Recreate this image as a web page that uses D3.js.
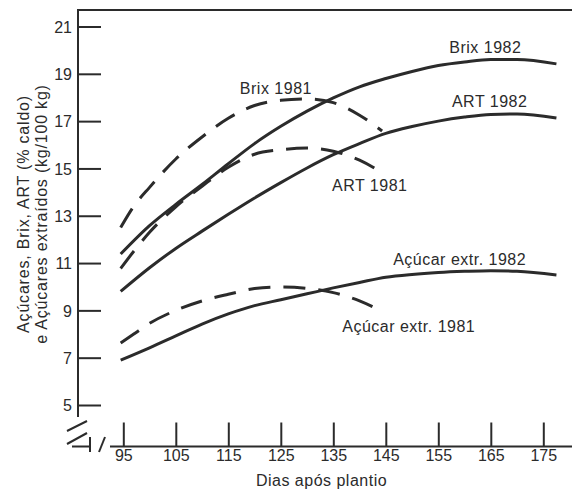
<!DOCTYPE html>
<html>
<head>
<meta charset="utf-8">
<script src="https://cdn.jsdelivr.net/npm/d3@7"></script>
<style>
  html, body { margin: 0; padding: 0; background: #fff; }
  svg text { font-family: 'Liberation Sans', Arial, Helvetica, sans-serif; fill: #2b2b2b; }
</style>
</head>
<body>
<div id="chart"></div>
<script>
'use strict'

// values (days after planting -> % / kg per 100 kg)
const days1982 = [94.5, 100, 105, 110, 115, 120, 125, 130, 135, 140, 145, 150, 155, 160, 165, 170, 177.5]
const brix1982 = [11.38, 12.58, 13.48, 14.32, 15.2, 16.05, 16.78, 17.42, 17.98, 18.45, 18.8, 19.1, 19.35, 19.5, 19.6, 19.6, 19.42]
const art1982 = [9.8, 10.8, 11.62, 12.35, 13.06, 13.75, 14.4, 15.02, 15.58, 16.05, 16.48, 16.77, 17.0, 17.17, 17.28, 17.3, 17.13]
const acucar1982 = [6.9, 7.42, 7.92, 8.42, 8.85, 9.2, 9.45, 9.7, 9.95, 10.18, 10.4, 10.52, 10.6, 10.65, 10.68, 10.65, 10.5]

const days1981 = [94.5, 97, 100, 105, 110, 115, 120, 125, 130, 135, 140, 144.3]
const brix1981 = [12.5, 13.4, 14.2, 15.4, 16.33, 17.12, 17.66, 17.88, 17.94, 17.78, 17.25, 16.58]
const art1981 = [10.77, 11.5, 12.3, 13.38, 14.25, 15.05, 15.6, 15.79, 15.86, 15.73, 15.35, 14.82]
const acucar1981 = [7.62, 8.0, 8.45, 9.0, 9.4, 9.68, 9.92, 9.99, 9.93, 9.75, 9.4, 8.95]

const xTicks = [95, 105, 115, 125, 135, 145, 155, 165, 175]
const yTicks = [5, 7, 9, 11, 13, 15, 17, 19, 21]

const xTitle = 'Dias após plantio'
const yTitle = ['Açúcares, Brix, ART (% caldo)', 'e Açúcares extraídos (kg/100 kg)']

const series = [
  { name: 'Brix 1982', days: days1982, values: brix1982, dashed: false },
  { name: 'ART 1982', days: days1982, values: art1982, dashed: false },
  { name: 'Açúcar extr. 1982', days: days1982, values: acucar1982, dashed: false },
  { name: 'Brix 1981', days: days1981, values: brix1981, dashed: true },
  { name: 'ART 1981', days: days1981, values: art1981, dashed: true },
  { name: 'Açúcar extr. 1981', days: days1981, values: acucar1981, dashed: true }
]

// where each curve's label sits, in data units (left edge / baseline)
const labelAt = {
  'Brix 1982': [157.1, 19.88],
  'ART 1982': [157.6, 17.6],
  'Brix 1981': [117.2, 18.13],
  'ART 1981': [134.75, 14.05],
  'Açúcar extr. 1982': [146.4, 10.92],
  'Açúcar extr. 1981': [136.7, 8.09]
}

const width = 572
const height = 490
const ink = '#2b2b2b'

const svg = d3.select('#chart').append('svg')
  .attr('width', width)
  .attr('height', height)

const x = d3.scaleLinear().domain([95, 175]).range([123.3, 543.3])
const y = d3.scaleLinear().domain([5, 21]).range([405, 26.5])

const axisX = 78      // y axis line
const baseY = 446.5   // x axis line
const frameTop = 10

// frame top + y axis line
svg.append('path')
  .attr('d', `M${width},${frameTop}H${axisX}V417`)
  .attr('fill', 'none')
  .attr('stroke', ink)
  .attr('stroke-width', 2)

const yAxis = d3.axisLeft(y)
  .tickValues(yTicks)
  .tickSize(-23)
  .tickPadding(6)

const gY = svg.append('g')
  .attr('transform', `translate(${axisX},0)`)
  .call(yAxis)
gY.select('.domain').remove()
gY.selectAll('.tick line').attr('stroke', ink).attr('stroke-width', 2)
gY.selectAll('.tick text')
  .attr('font-size', 16)
  .attr('fill', ink)
  .attr('dy', '0.36em')

const xAxis = d3.axisBottom(x)
  .tickValues(xTicks)
  .tickSize(-24)
  .tickPadding(3)

const gX = svg.append('g')
  .attr('transform', `translate(0,${baseY})`)
  .call(xAxis)
gX.select('.domain').remove()
gX.selectAll('.tick line').attr('stroke', ink).attr('stroke-width', 2)
gX.selectAll('.tick text')
  .attr('font-size', 16)
  .attr('fill', ink)

svg.append('line')
  .attr('x1', 110).attr('x2', width)
  .attr('y1', baseY).attr('y2', baseY)
  .attr('stroke', ink)
  .attr('stroke-width', 2)

// axis break marks
const breaks = [
  [[67, 431], [87, 421]],
  [[67, 444], [87, 433]],
  [[72, 446.5], [90, 446.5]],
  [[90, 437], [90, 452]],
  [[99, 452], [105, 437]]
]
svg.append('g')
  .selectAll('line')
  .data(breaks)
  .join('line')
  .attr('x1', d => d[0][0]).attr('y1', d => d[0][1])
  .attr('x2', d => d[1][0]).attr('y2', d => d[1][1])
  .attr('stroke', ink)
  .attr('stroke-width', 2)

// titles
svg.append('text')
  .attr('x', 321.5)
  .attr('y', 486)
  .attr('text-anchor', 'middle')
  .attr('font-size', 16)
  .attr('letter-spacing', 0.5)
  .text(xTitle)

svg.append('g')
  .attr('transform', 'translate(29,214) rotate(-90)')
  .selectAll('text')
  .data(yTitle)
  .join('text')
  .attr('x', 0)
  .attr('y', (d, i) => i * 17.5)
  .attr('text-anchor', 'middle')
  .attr('font-size', 16)
  .attr('letter-spacing', 0.8)
  .text(d => d)

// curves
const line = d3.line()
  .x(d => x(d[0]))
  .y(d => y(d[1]))
  .curve(d3.curveMonotoneX)

svg.append('g')
  .selectAll('path')
  .data(series)
  .join('path')
  .attr('d', s => line(s.days.map((d, i) => [d, s.values[i]])))
  .attr('fill', 'none')
  .attr('stroke', ink)
  .attr('stroke-width', 3)
  .attr('stroke-dasharray', s => s.dashed ? '22,13' : null)

svg.append('g')
  .selectAll('text')
  .data(series)
  .join('text')
  .attr('x', s => x(labelAt[s.name][0]))
  .attr('y', s => y(labelAt[s.name][1]))
  .attr('font-size', 16)
  .attr('letter-spacing', 0.5)
  .text(s => s.name)
</script>
</body>
</html>
